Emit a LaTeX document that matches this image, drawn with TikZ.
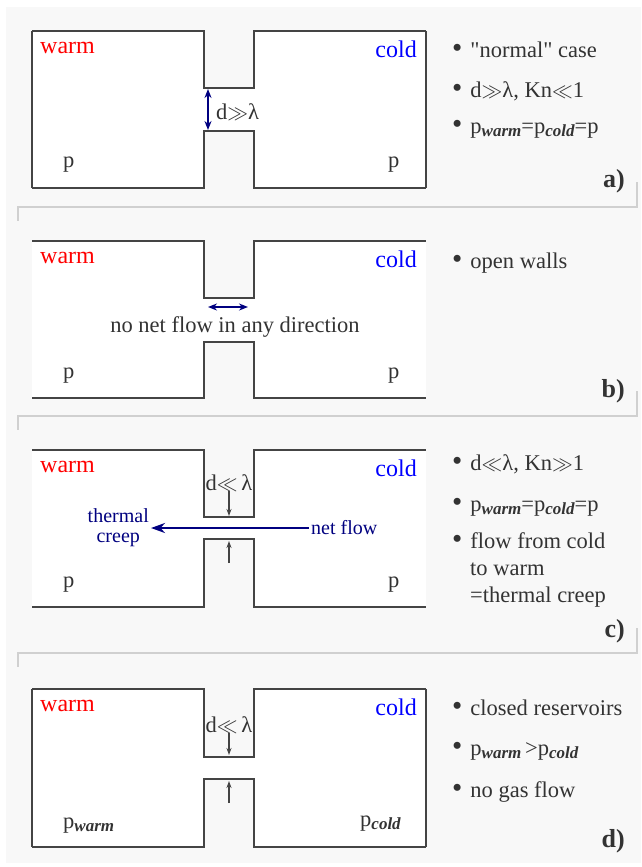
\documentclass[tikz,border=0pt]{standalone}
\usepackage{fontspec}
\setmainfont{Liberation Serif}
\usetikzlibrary{arrows.meta}

\definecolor{bggray}{HTML}{F8F8F8}
\definecolor{wallgray}{HTML}{444444}
\definecolor{txtgray}{HTML}{333333}
\definecolor{sepgray}{HTML}{D0D0D0}
\definecolor{navyblue}{HTML}{000080}

\newcommand{\subtxt}[1]{\raisebox{-0.15em}{\fontsize{17}{17}\selectfont\bfseries\itshape #1}}
\newcommand{\bul}{\scalebox{1.3}{\textbullet}\hspace{8pt}}
\newcommand{\mgg}{\ensuremath{\gg}}
\newcommand{\mll}{\ensuremath{\ll}}

\begin{document}
\begin{tikzpicture}[x=1pt, y=-1pt,
    wall/.style={draw=wallgray, line width=1.5pt},
    sepline/.style={draw=sepgray, line width=1.5pt},
    txt/.style={anchor=base west, inner sep=0pt, text=txtgray, font=\fontsize{22.5}{26}\selectfont},
    hot/.style={txt, text=red, font=\fontsize{24}{28}\selectfont},
    cool/.style={txt, anchor=base east, text=blue, font=\fontsize{24}{28}\selectfont},
    tag/.style={txt, anchor=base east, font=\fontsize{26}{30}\selectfont\bfseries},
    gap/.style={{Stealth[length=9pt, width=7pt]}-{Stealth[length=9pt, width=7pt]}, draw=navyblue, line width=2pt},
    flow/.style={-{Stealth[length=14pt, width=10pt]}, draw=navyblue, line width=2.8pt},
    push/.style={-{Stealth[length=7pt, width=5pt]}, draw=wallgray, line width=1.2pt},
    creeptxt/.style={text=navyblue, font=\fontsize{20}{20}\selectfont, inner sep=2pt, align=center}
]
    \useasboundingbox (0,0) rectangle (641,867);
    \fill[bggray] (6,7) rectangle (641,863);

    % the four tubes: top, upper wall, lower wall, bottom
    \foreach \t/\u/\l/\b [count=\i] in {31/88/131/188, 241/298/342/398, 450/517/539/607, 689/757/779/847} {
        \fill[white] (32,\t) -| (204,\u) -| (254,\t) -| (426,\b) -| (254,\l) -| (204,\b) -- (32,\b) -- cycle;
        \draw[wall] (32,\t) -| (204,\u) -| (254,\t) -- (426,\t);
        \draw[wall] (32,\b) -| (204,\l) -| (254,\b) -- (426,\b);
        \node[hot] (warm\i) at (40,\t+22) {warm};
        \node[cool] (cold\i) at (417,\t+26) {cold};
    }
    % closed reservoirs in a) and d)
    \draw[wall] (32,31) -- (32,188) (426,31) -- (426,188);
    \draw[wall] (32,689) -- (32,847) (426,689) -- (426,847);

    % separators
    \foreach \s in {207,416,653}
        \draw[sepline] (637,\s-25) -- (637,\s) -- (18,\s) -- (18,\s+14);

    % a)
    \node[txt] (pa1) at (63,167) {p};
    \node[txt] (pa2) at (388,167) {p};
    \coordinate (atop) at (208,89);
    \coordinate (abot) at (208,130);
    \draw[gap] (atop) -- (abot);
    \node[txt] (dgga) at (216,119) {d\mgg λ};
    \node[txt] (a1) at (452,58) {\bul\textquotedbl normal\textquotedbl{} case};
    \node[txt] (a2) at (452,97) {\bul d\mgg λ, Kn\mll 1};
    \node[txt] (a3) at (452,133) {\bul p\subtxt{warm}=p\subtxt{cold}=p};
    \node[tag] (taga) at (625,187) {a)};

    % b)
    \node[txt] (pb1) at (63,378) {p};
    \node[txt] (pb2) at (388,378) {p};
    \coordinate (bleft) at (208,307);
    \coordinate (bright) at (248,307);
    \draw[gap] (bleft) -- (bright);
    \node[txt, anchor=base] (noflow) at (235,332) {no net flow in any direction};
    \node[txt] (b1) at (452,268) {\bul open walls};
    \node[tag] (tagb) at (625,397) {b)};

    % c)
    \node[txt] (pc1) at (63,587) {p};
    \node[txt] (pc2) at (388,587) {p};
    \node[txt, anchor=base] (dllc) at (229,490) {d\mll\,λ};
    \coordinate (cup) at (229,516);
    \coordinate (clow) at (229,541);
    \coordinate (ctail) at (229,563);
    \draw[push] (dllc.south) -- (cup);
    \draw[push] (ctail) -- (clow);
    \node[creeptxt, anchor=west] (netflow) at (309,528) {net flow};
    \node[creeptxt, anchor=east] (creep) at (151,528) {thermal\\creep};
    \draw[flow] (netflow.west) -- (creep.east);
    \node[txt] (c1) at (452,470) {\bul d\mll λ, Kn\mgg 1};
    \node[txt] (c2) at (452,511) {\bul p\subtxt{warm}=p\subtxt{cold}=p};
    \node[txt] (c3) at (452,548) {\bul flow from cold};
    \node[txt] (c4) at (470,575) {to warm};
    \node[txt] (c5) at (470,602) {=thermal creep};
    \node[tag] (tagc) at (625,637) {c)};

    % d)
    \node[txt] (pd1) at (63,828) {p\subtxt{warm}};
    \node[txt] (pd2) at (360,826) {p\subtxt{cold}};
    \node[txt, anchor=base] (dlld) at (229,732) {d\mll\,λ};
    \coordinate (dup) at (229,755);
    \coordinate (dlow) at (229,781);
    \coordinate (dtail) at (229,803);
    \draw[push] (dlld.south) -- (dup);
    \draw[push] (dtail) -- (dlow);
    \node[txt] (d1) at (452,715) {\bul closed reservoirs};
    \node[txt] (d2) at (452,755) {\bul p\subtxt{warm}\,>p\subtxt{cold}};
    \node[txt] (d3) at (452,797) {\bul no gas flow};
    \node[tag] (tagd) at (625,847) {d)};
\end{tikzpicture}
\end{document}
